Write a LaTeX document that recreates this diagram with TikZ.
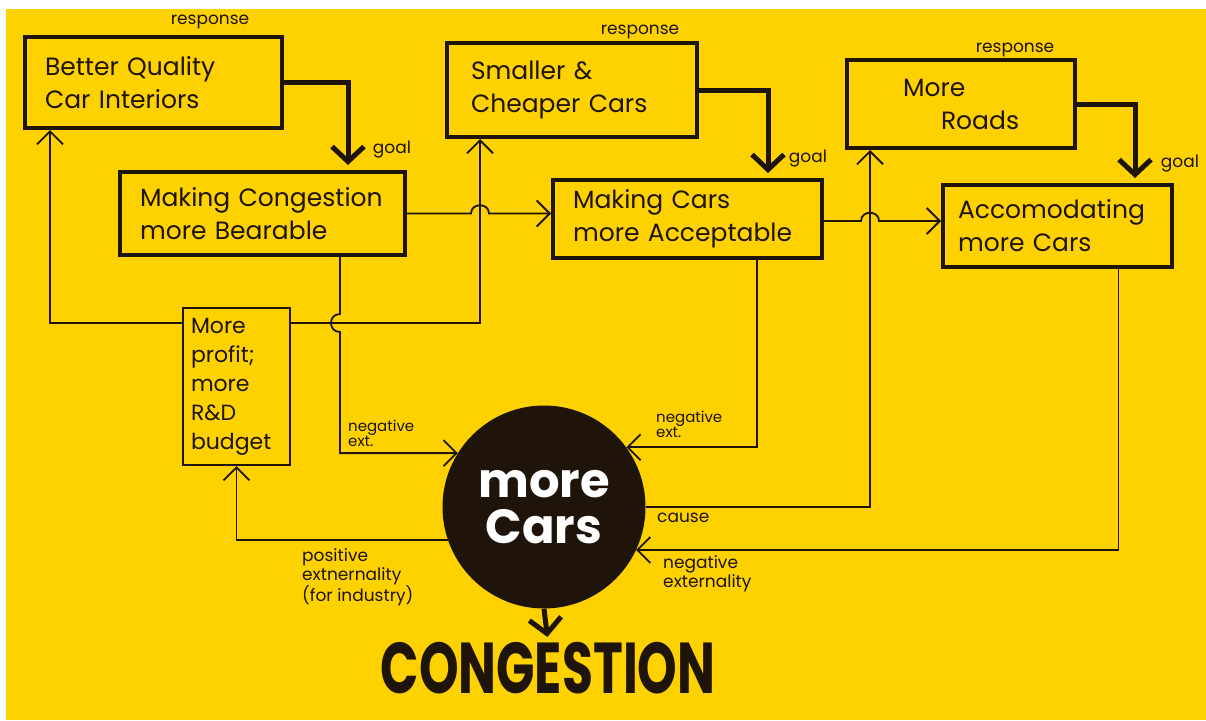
\documentclass[tikz,border=0pt]{standalone}
\usepackage{fontspec}
\setmainfont{Poppins}
\usetikzlibrary{arrows.meta,calc}
\definecolor{paper}{RGB}{254,209,0}
\definecolor{ink}{RGB}{30,20,10}

\begin{document}
\begin{tikzpicture}[x=1pt,y=-1pt]
	\path [use as bounding box] (0,0) rectangle (1206,720);
	\fill[white] (0,0) rectangle (1206,720);
	\fill[paper] (6,9) rectangle (1206,720);
	\tikzstyle{boxnode} = [draw=ink, line width=4pt, rectangle, align=left, text=ink, inner xsep=20pt, font=\fontsize{25}{33}\selectfont]
	\tikzstyle{notetext} = [text=ink, inner sep=0pt, align=left, font=\fontsize{17}{19}\selectfont]
	\tikzstyle{flowline} = [draw=ink, line width=1.8pt, -{Straight Barb[length=13pt,width=26pt]}]
	\tikzstyle{goalline} = [draw=ink, line width=5pt, -{Straight Barb[length=15pt,width=32pt]}, shorten >=5pt]
	% the three responses and their goals
	\node[boxnode, text width=217pt, minimum height=91pt] (interiors) at (153.5,82.5) {Better Quality\\Car Interiors};
	\node[boxnode, text width=245pt, minimum height=83pt] (bearable) at (262.5,213.5) {Making Congestion\\more Bearable};
	\node[boxnode, text width=202pt, inner xsep=24pt, minimum height=94pt] (cheaper) at (572,90) {Smaller \&\\Cheaper Cars};
	\node[boxnode, text width=229pt, minimum height=78pt] (acceptable) at (687.5,219) {Making Cars\\more Acceptable};
	\node[boxnode, text width=160pt, inner xsep=34pt, minimum height=88pt] (roads) at (961,104) {\hspace*{22pt}More\\\hspace*{60pt}Roads};
	\node[boxnode, text width=199pt, inner xsep=15pt, minimum height=82pt] (accom) at (1057.5,226) {Accomodating\\more Cars};
	\node[boxnode, line width=2.2pt, text width=91pt, inner xsep=8pt, minimum height=157pt, font=\fontsize{22}{29}\selectfont] (profit) at (236.5,386.5) {More\\profit;\\more\\R\&D\\budget};
	\node[circle, fill=ink, text=white, minimum size=203pt, inner sep=0pt, align=center, font=\fontsize{48}{46}\selectfont\bfseries] (cars) at (544,507) {more\\Cars};
	\node[text=ink, inner sep=0pt, font=\fontsize{72}{72}\selectfont\bfseries] (congestion) at (548,668) {\scalebox{0.7}[1]{CONGESTION}};

	\node[notetext] (resp1) at (210,22) {response};
	\node[notetext] (resp2) at (640,32) {response};
	\node[notetext] (resp3) at (1015,50) {response};
	\node[notetext] (goal1) at (392,150) {goal};
	\node[notetext] (goal2) at (808,159) {goal};
	\node[notetext] (goal3) at (1180,164) {goal};

	\draw[goalline] (interiors.east) -| ([xshift=85.5pt]bearable.north);
	\draw[goalline] (cheaper.east) -| ([xshift=80.5pt]acceptable.north);
	\draw[goalline] (roads.east) -| ([xshift=77.5pt]accom.north);

	% hops where lines cross
	\coordinate (hopA) at (480,213.5);
	\coordinate (hopB) at (340,323);
	\coordinate (hopC) at (870,221);
	\draw[flowline] (bearable.east) -- ([xshift=-9pt]hopA) .. controls ([xshift=-9pt,yshift=11pt]hopA) and ([xshift=9pt,yshift=11pt]hopA) .. ([xshift=9pt]hopA) -- (acceptable.west |- hopA);
	\draw[flowline] (acceptable.east |- hopC) -- ([xshift=-9pt]hopC) .. controls ([xshift=-9pt,yshift=11pt]hopC) and ([xshift=9pt,yshift=11pt]hopC) .. ([xshift=9pt]hopC) -- (accom.west |- hopC);

	\draw[flowline] ([yshift=63.5pt]profit.west) -| ([xshift=-103.5pt]interiors.south);
	\draw[flowline] ([yshift=63.5pt]profit.east) -| ([xshift=-92pt]cheaper.south);
	\draw[flowline] ([xshift=77.5pt]bearable.south) -- ([yshift=9pt]hopB) .. controls ([xshift=-12pt,yshift=9pt]hopB) and ([xshift=-12pt,yshift=-9pt]hopB) .. ([yshift=-9pt]hopB) |- (cars.148);
	\draw[flowline] ([xshift=69.5pt]acceptable.south) |- (cars.36);
	\draw[flowline] (cars.east) -| ([xshift=-91pt]roads.south);
	\draw[flowline] ([xshift=61pt]accom.south) |- (cars.-25);
	\draw[flowline] (cars.199) -| (profit.south);
	\draw[goalline] (cars.south) -- (congestion.north);

	\node[notetext, anchor=north west, font=\fontsize{15}{15}\selectfont] (negL) at (348,420) {negative\\ext.};
	\node[notetext, anchor=north west, font=\fontsize{15}{15}\selectfont] (negR) at (656,411) {negative\\ext.};
	\node[notetext, anchor=north west] (cause) at (657,513) {cause};
	\node[notetext, anchor=north west] (negX) at (663,555) {negative\\externality};
	\node[notetext, anchor=north west] (posX) at (302,548) {positive\\extnernality\\(for industry)};
\end{tikzpicture}
\end{document}
